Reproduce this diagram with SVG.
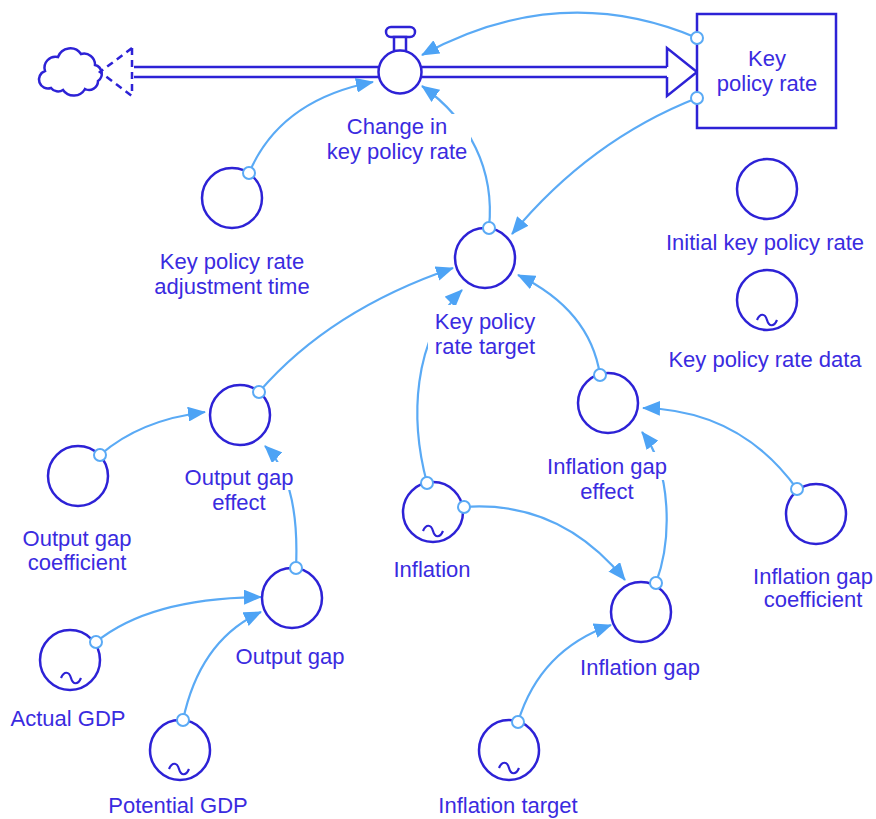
<svg xmlns="http://www.w3.org/2000/svg" width="876" height="819" viewBox="0 0 876 819">
<style>
.lbl{font-family:"Liberation Sans",Arial,sans-serif;font-size:22px;fill:#3a2be0;text-anchor:middle}
.node{fill:#fff;stroke:#2d22d6;stroke-width:2.5}
.tilde{fill:none;stroke:#2d22d6;stroke-width:2.2}
.pipe{fill:none;stroke:#2d22d6;stroke-width:2.5}
.conn{fill:none;stroke:#5aaaf5;stroke-width:2.2;marker-end:url(#ah)}
.org{fill:#fff;stroke:#5aaaf5;stroke-width:2}
.bg{fill:#fff}
</style>
<defs>
<marker id="ah" viewBox="0 0 18 15" refX="17" refY="7.5" markerWidth="18" markerHeight="15" markerUnits="userSpaceOnUse" orient="auto">
<path d="M0,0 L18,7.5 L0,15 Z" fill="#4da3f5"/>
</marker>
</defs>
<rect width="876" height="819" fill="#fff"/>

<g id="flow">
<path class="pipe" d="M51,88 a9,9 0 0 1 -6,-17 a11,11 0 0 1 13,-14 a13,13 0 0 1 23,-3 a11,11 0 0 1 14,11 a9,9 0 0 1 3,16 a9,9 0 0 1 -13,8 a13,13 0 0 1 -22,1 a9,9 0 0 1 -12,-2 Z"/>
<path class="pipe" d="M132,48 L132,96 M132,48 L100,72 L132,96" stroke-dasharray="7,5"/>
<path class="pipe" d="M134,67 L667,67 M134,77 L667,77"/>
<polyline class="pipe" points="667,67 667,48 697,72 667,96 667,77"/>
</g>

<g id="connectors">
<path class="conn" d="M697,38 Q560,-20 422,55"/>
<path class="conn" d="M697,98 Q590,140 512,234"/>
<path class="conn" d="M489,228 C495,170 470,120 422,86"/>
<path class="conn" d="M249,173 Q280,100 373,82"/>
<path class="conn" d="M259,392 Q330,310 453,268"/>
<path class="conn" d="M427,483 C410,420 412,340 462,290"/>
<path class="conn" d="M600,375 Q590,310 518,275"/>
<path class="conn" d="M100,455 Q140,420 205,412"/>
<path class="conn" d="M296,568 Q300,480 265,446"/>
<path class="conn" d="M96,642 Q150,598 261,597"/>
<path class="conn" d="M183,720 Q200,640 261,612"/>
<path class="conn" d="M464,507 Q560,500 625,580"/>
<path class="conn" d="M656,583 C672,540 672,470 642,432"/>
<path class="conn" d="M797,489 Q740,410 643,408"/>
<path class="conn" d="M518,722 Q540,650 611,625"/>
</g>

<g id="stock-key-policy-rate">
<rect x="697" y="14" width="139" height="114" fill="#fff" stroke="#2d22d6" stroke-width="2.5"/>
<text class="lbl" x="767" y="66">Key</text>
<text class="lbl" x="767" y="91">policy rate</text>
</g>

<g id="valve-change-in-key-policy-rate">
<rect x="386" y="27" width="29" height="10" rx="5" fill="#fff" stroke="#2d22d6" stroke-width="2.5"/>
<rect x="394" y="37" width="12" height="14" fill="#fff" stroke="#2d22d6" stroke-width="2.5"/>
<circle class="node" cx="400" cy="72" r="21.5"/>
<rect class="bg" x="338" y="114" width="133" height="50"/>
<text class="lbl" x="397" y="134">Change in</text>
<text class="lbl" x="397" y="159">key policy rate</text>
</g>

<g id="key-policy-rate-adjustment-time">
<circle class="node" cx="232" cy="198" r="30"/>
<text class="lbl" x="232" y="269">Key policy rate</text>
<text class="lbl" x="232" y="294">adjustment time</text>
</g>

<g id="key-policy-rate-target">
<circle class="node" cx="485" cy="258" r="30"/>
<rect class="bg" x="428" y="305" width="114" height="55"/>
<text class="lbl" x="485" y="329">Key policy</text>
<text class="lbl" x="485" y="354">rate target</text>
</g>

<g id="initial-key-policy-rate">
<circle class="node" cx="767" cy="189" r="30"/>
<text class="lbl" x="765" y="250">Initial key policy rate</text>
</g>

<g id="key-policy-rate-data">
<circle class="node" cx="767" cy="300" r="30"/>
<path class="tilde" d="M757,320 c3,-7 8,-7 10,0 s7,7 10,0"/>
<text class="lbl" x="765" y="367">Key policy rate data</text>
</g>

<g id="output-gap-effect">
<circle class="node" cx="240" cy="415" r="30"/>
<rect class="bg" x="180" y="462" width="120" height="28"/>
<text class="lbl" x="239" y="485">Output gap</text>
<text class="lbl" x="239" y="510">effect</text>
</g>

<g id="output-gap-coefficient">
<circle class="node" cx="78" cy="476" r="30"/>
<text class="lbl" x="77" y="546">Output gap</text>
<text class="lbl" x="77" y="570">coefficient</text>
</g>

<g id="output-gap">
<circle class="node" cx="292" cy="598" r="30"/>
<text class="lbl" x="290" y="664">Output gap</text>
</g>

<g id="actual-gdp">
<circle class="node" cx="70" cy="660" r="30"/>
<path class="tilde" d="M61,678 c3,-7 8,-7 10,0 s7,7 10,0"/>
<text class="lbl" x="68" y="726">Actual GDP</text>
</g>

<g id="potential-gdp">
<circle class="node" cx="180" cy="750" r="30"/>
<path class="tilde" d="M169,769 c3,-7 8,-7 10,0 s7,7 10,0"/>
<text class="lbl" x="178" y="813">Potential GDP</text>
</g>

<g id="inflation">
<circle class="node" cx="433" cy="512" r="30"/>
<path class="tilde" d="M423,531 c3,-7 8,-7 10,0 s7,7 10,0"/>
<text class="lbl" x="432" y="577">Inflation</text>
</g>

<g id="inflation-gap-effect">
<circle class="node" cx="608" cy="403" r="30"/>
<rect class="bg" x="545" y="452" width="125" height="28"/>
<text class="lbl" x="607" y="474">Inflation gap</text>
<text class="lbl" x="607" y="499">effect</text>
</g>

<g id="inflation-gap">
<circle class="node" cx="641" cy="612" r="30"/>
<text class="lbl" x="640" y="675">Inflation gap</text>
</g>

<g id="inflation-gap-coefficient">
<circle class="node" cx="816" cy="514" r="30"/>
<text class="lbl" x="813" y="584">Inflation gap</text>
<text class="lbl" x="813" y="607">coefficient</text>
</g>

<g id="inflation-target">
<circle class="node" cx="509" cy="750" r="30"/>
<path class="tilde" d="M499,768 c3,-7 8,-7 10,0 s7,7 10,0"/>
<text class="lbl" x="508" y="813">Inflation target</text>
</g>

<g id="connector-origins">
<circle class="org" cx="697" cy="38" r="6"/>
<circle class="org" cx="697" cy="98" r="6"/>
<circle class="org" cx="489" cy="228" r="6"/>
<circle class="org" cx="249" cy="173" r="6"/>
<circle class="org" cx="259" cy="392" r="6"/>
<circle class="org" cx="427" cy="483" r="6"/>
<circle class="org" cx="464" cy="507" r="6"/>
<circle class="org" cx="600" cy="375" r="6"/>
<circle class="org" cx="100" cy="455" r="6"/>
<circle class="org" cx="296" cy="568" r="6"/>
<circle class="org" cx="96" cy="642" r="6"/>
<circle class="org" cx="183" cy="720" r="6"/>
<circle class="org" cx="656" cy="583" r="6"/>
<circle class="org" cx="797" cy="489" r="6"/>
<circle class="org" cx="518" cy="722" r="6"/>
</g>
</svg>
